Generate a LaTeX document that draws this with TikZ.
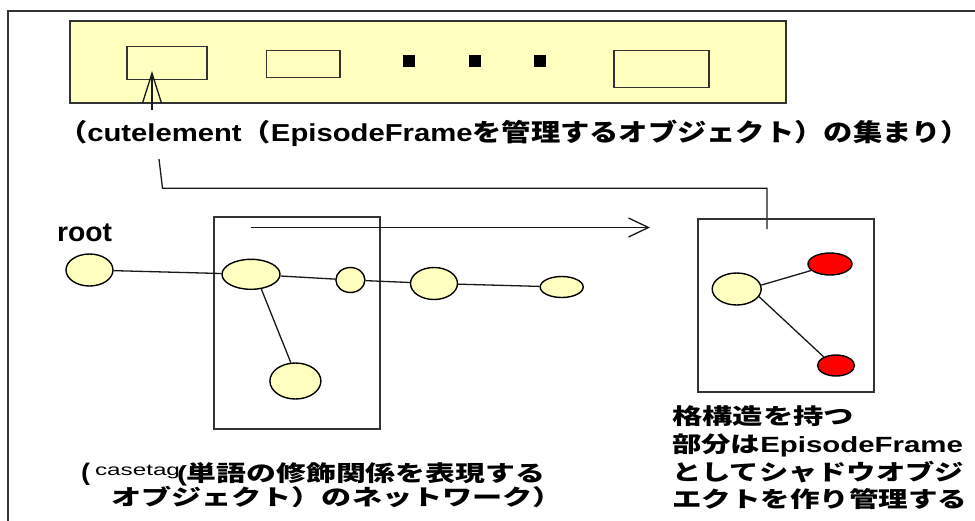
\documentclass[tikz,border=0pt]{standalone}
\usepackage{graphicx}
\usepackage{fontspec}
\setmainfont{Liberation Sans}
\newfontfamily\jpfont{Noto Sans CJK JP}
\usetikzlibrary{arrows.meta,shapes.geometric}
\definecolor{paleyellow}{HTML}{FFFFC0}
\definecolor{nodered}{HTML}{FF0000}
\definecolor{linegray}{HTML}{333333}
\newcommand\fitw[2]{\resizebox{#1}{\height}{#2}}
\newcommand\lat[1]{{\normalfont\bfseries #1}}
\tikzset{
  frameline/.style={draw=linegray, line width=1.5pt},
  plainbox/.style={rectangle, draw=linegray, line width=1.4pt, inner sep=0pt},
  ybox/.style={plainbox, fill=paleyellow},
  dotsq/.style={rectangle, fill=black, minimum size=12pt, inner sep=0pt},
  ynode/.style={ellipse, draw=black, line width=1.4pt, fill=paleyellow, inner sep=0pt},
  rnode/.style={ellipse, draw=black, line width=1.4pt, fill=nodered, inner sep=0pt},
  edge/.style={draw=black!90, line width=1.3pt},
  conn/.style={draw=black!90, line width=1.3pt},
  txt/.style={anchor=base west, inner sep=0pt, outer sep=0pt},
}
\begin{document}
\begin{tikzpicture}[x=1pt,y=-1pt]
\useasboundingbox (0,0) rectangle (975,520);
\clip (0,0) rectangle (975,520);
% outer frame (continues beyond the picture)
\draw[frameline] (8,540) -- (8,11) -- (1000,11);
% collection of cutelements
\node[ybox, minimum width=716pt, minimum height=82pt] (coll) at (428,62) {};
\node[plainbox, minimum width=80pt, minimum height=32.6pt] (ce1) at (166.8,63) {};
\node[plainbox, minimum width=73.3pt, minimum height=26.6pt] (ce2) at (303.3,64) {};
\node[dotsq] (dot1) at (408.7,61.3) {};
\node[dotsq] (dot2) at (474.5,61.3) {};
\node[dotsq] (dot3) at (540,61.3) {};
\node[plainbox, minimum width=95pt, minimum height=36.6pt] (ce3) at (661.5,69) {};
% label of collection
\node[txt] (lbl1) at (58,141) {\fitw{912pt}{\fontsize{24.5pt}{24.5pt}\selectfont\jpfont\bfseries （\lat{cutelement}（\lat{EpisodeFrame}を管理するオブジェクト）の集まり）}};
% arrow up to first cutelement
\coordinate (upfoot) at (152,110);
\coordinate (uptip) at (152,71);
\draw[conn, -{Straight Barb[length=30pt,width=19pt]}] (upfoot) -- (uptip);
% connector to shadow box
\coordinate (k0) at (159,159);
\coordinate (k1) at (162.5,188.3);
\coordinate (k2) at (767,188.3);
\coordinate (k3) at (767,229);
\draw[conn] (k0) -- (k1) -- (k2) -- (k3);
% network
\node[txt] (rootlbl) at (57,241) {\fitw{55pt}{\fontsize{27pt}{27pt}\selectfont\bfseries root}};
\node[plainbox, minimum width=166pt, minimum height=212pt] (netbox) at (297,323) {};
\coordinate (h0) at (250.5,227.5);
\coordinate (h1) at (650,227.5);
\draw[conn, -{Straight Barb[length=20pt,width=19pt]}] (h0) -- (h1);
\node[ynode, minimum width=47pt, minimum height=32pt] (root) at (89.5,270) {};
\node[ynode, minimum width=58pt, minimum height=30pt] (e2) at (251,274.3) {};
\node[ynode, minimum width=29pt, minimum height=25pt] (e3) at (350.4,280) {};
\node[ynode, minimum width=47pt, minimum height=32pt] (e4) at (434,283.5) {};
\node[ynode, minimum width=43pt, minimum height=21pt] (e5) at (561.7,287) {};
\node[ynode, minimum width=51pt, minimum height=36pt] (e6) at (295.4,381) {};
\draw[edge] (root) -- (e2);
\draw[edge] (e2) -- (e3);
\draw[edge] (e3) -- (e4);
\draw[edge] (e4) -- (e5);
\draw[edge] (e2.-55) -- (e6.104);
% shadow object box
\node[plainbox, minimum width=176pt, minimum height=173pt] (shbox) at (786,305.5) {};
\node[ynode, minimum width=49pt, minimum height=32pt] (sy) at (736.7,289) {};
\node[rnode, minimum width=44pt, minimum height=22pt] (sr1) at (830,264) {};
\node[rnode, minimum width=37pt, minimum height=21pt] (sr2) at (836,365.5) {};
\draw[edge] (sy.9) -- (sr1.199);
\draw[edge] (sy.-19) -- (sr2.145);
% bottom left text
\node[txt] (bl0) at (81,480) {\fitw{9pt}{\fontsize{24pt}{24pt}\selectfont\bfseries (}};
\node[txt] (bl1) at (95,475) {\fitw{85pt}{\fontsize{16pt}{16pt}\selectfont casetag}};
\node[txt] (bl2) at (177,481.5) {\fitw{368pt}{\fontsize{22pt}{22pt}\selectfont\jpfont\bfseries\lat{(}単語の修飾関係を表現する}};
\node[txt] (bl3) at (111,505) {\fitw{452pt}{\fontsize{22pt}{22pt}\selectfont\jpfont\bfseries オブジェクト）のネットワーク）}};
% bottom right text
\node[txt] (br1) at (672,424) {\fitw{182pt}{\fontsize{22pt}{22pt}\selectfont\jpfont\bfseries 格構造を持つ}};
\node[txt] (br2) at (672,452) {\fitw{291pt}{\fontsize{22pt}{22pt}\selectfont\jpfont\bfseries 部分は\lat{EpisodeFrame}}};
\node[txt] (br3) at (672,480) {\fitw{292pt}{\fontsize{22pt}{22pt}\selectfont\jpfont\bfseries としてシャドウオブジ}};
\node[txt] (br4) at (672,507) {\fitw{295pt}{\fontsize{22pt}{22pt}\selectfont\jpfont\bfseries エクトを作り管理する}};
\end{tikzpicture}
\end{document}
